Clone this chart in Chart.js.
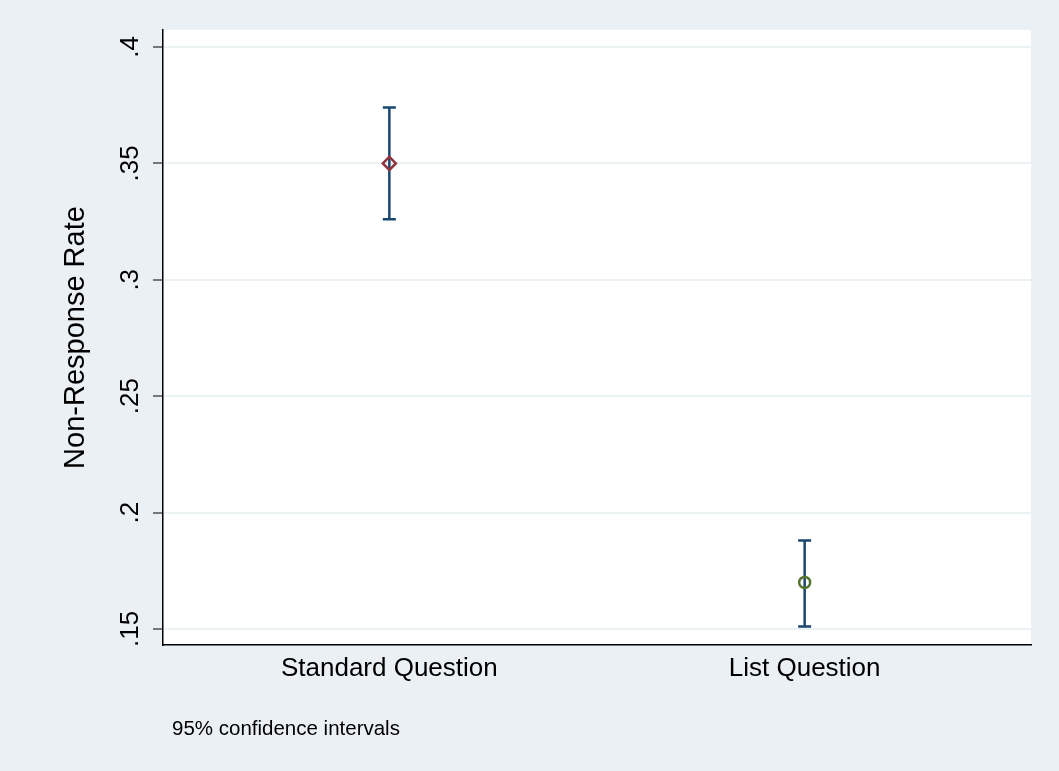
<!DOCTYPE html>
<html>
<head>
<meta charset="utf-8">
<style>
  html, body { margin: 0; padding: 0; background: #eaf0f4; }
  canvas { display: block; }
</style>
</head>
<body>
<canvas id="ciChart" width="1059" height="771"></canvas>
<script src="https://cdn.jsdelivr.net/npm/chart.js"></script>
<script>
let categories = ['Standard Question', 'List Question'];
let xPos = [1, 2];
let means = [0.350, 0.170];
let ciLow = [0.326, 0.151];
let ciHigh = [0.374, 0.188];
let yTicks = [0.15, 0.2, 0.25, 0.3, 0.35, 0.4];
let yTickLabels = ['.15', '.2', '.25', '.3', '.35', '.4'];

const FONT = 'Liberation Sans, Arial, Helvetica, sans-serif';

// background, white plot region, rotated y labels, error bars, note
let stataLook = {
    id: 'stataLook',
    beforeDraw(chart) {
        let c = chart.ctx, a = chart.chartArea;
        c.save();
        c.fillStyle = '#eaf0f4';
        c.fillRect(0, 0, chart.width, chart.height);
        c.fillStyle = '#ffffff';
        c.fillRect(a.left, a.top, a.right - a.left, a.bottom - a.top);
        c.restore();
    },
    beforeDatasetsDraw(chart) {
        let c = chart.ctx;
        let xs = chart.scales.x, ys = chart.scales.y;
        c.save();
        c.strokeStyle = '#1a476f';
        c.lineWidth = 2.5;
        for (let i = 0; i < xPos.length; i++) {
            let px = xs.getPixelForValue(xPos[i]);
            let lo = ys.getPixelForValue(ciLow[i]);
            let hi = ys.getPixelForValue(ciHigh[i]);
            c.beginPath();
            c.moveTo(px, lo); c.lineTo(px, hi);
            c.moveTo(px - 6.5, lo); c.lineTo(px + 6.5, lo);
            c.moveTo(px - 6.5, hi); c.lineTo(px + 6.5, hi);
            c.stroke();
        }
        c.restore();
    },
    afterDraw(chart) {
        let c = chart.ctx, a = chart.chartArea;
        let ys = chart.scales.y, xs = chart.scales.x;
        c.save();
        c.fillStyle = '#000000';
        c.font = '26px ' + FONT;
        c.textAlign = 'center';
        c.textBaseline = 'middle';
        yTicks.forEach((v, i) => {
            c.save();
            c.translate(131, ys.getPixelForValue(v));
            c.rotate(-Math.PI / 2);
            c.fillText(yTickLabels[i], 0, 0);
            c.restore();
        });
        // axis title
        c.save();
        c.font = '29px ' + FONT;
        c.translate(76, (a.top + a.bottom) / 2);
        c.rotate(-Math.PI / 2);
        c.fillText('Non-Response Rate', 0, 0);
        c.restore();
        // category labels
        categories.forEach((t, i) => {
            c.fillText(t, xs.getPixelForValue(xPos[i]), 669);
        });
        // note
        c.font = '20.5px ' + FONT;
        c.textAlign = 'left';
        c.fillText('95% confidence intervals', 172, 729);
        c.restore();
    }
};

let ctx = document.getElementById('ciChart').getContext('2d');
let chart = new Chart(ctx, {
    type: 'scatter',
    data: {
        datasets: [{
            label: categories[0],
            data: [{ x: xPos[0], y: means[0] }],
            pointStyle: 'rectRot',
            pointRadius: 6.5,
            borderColor: '#90353b',
            backgroundColor: 'rgba(0,0,0,0)',
            borderWidth: 2.5
        }, {
            label: categories[1],
            data: [{ x: xPos[1], y: means[1] }],
            pointStyle: 'circle',
            pointRadius: 5.5,
            borderColor: '#55752f',
            backgroundColor: 'rgba(0,0,0,0)',
            borderWidth: 2.5
        }]
    },
    options: {
        responsive: false,
        animation: false,
        layout: { padding: { top: 30, right: 28, left: 0, bottom: 0 } },
        plugins: { legend: { display: false }, tooltip: { enabled: false } },
        scales: {
            x: {
                type: 'linear',
                min: 0.455,
                max: 2.545,
                afterFit: s => { s.height = 126; },
                afterBuildTicks: s => { s.ticks = []; },
                ticks: { display: false },
                grid: { display: false, drawTicks: false },
                border: { display: true, color: '#000000', width: 1.5 }
            },
            y: {
                min: 0.1431,
                max: 0.4073,
                afterFit: s => { s.width = 163; },
                afterBuildTicks: s => { s.ticks = yTicks.map(v => ({ value: v })); },
                ticks: { display: false },
                grid: {
                    color: '#eaf2f3',
                    lineWidth: 2,
                    drawTicks: true,
                    tickLength: 10,
                    tickColor: '#000000',
                    tickWidth: 1
                },
                border: { display: true, color: '#000000', width: 1.5 }
            }
        }
    },
    plugins: [stataLook]
});
</script>
</body>
</html>
